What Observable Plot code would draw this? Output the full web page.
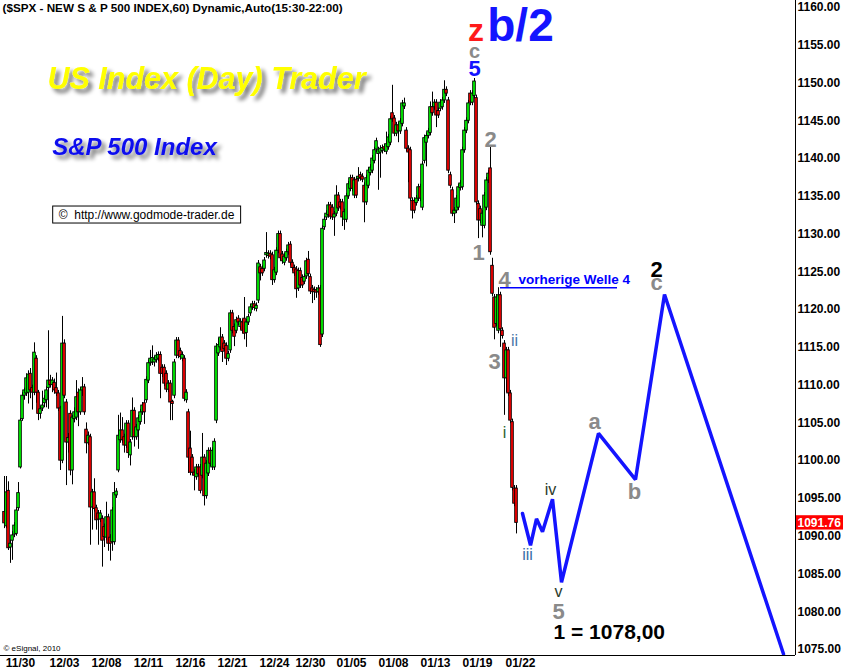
<!DOCTYPE html>
<html><head><meta charset="utf-8">
<script src="https://cdn.jsdelivr.net/npm/d3@7"></script>
<script src="https://cdn.jsdelivr.net/npm/@observablehq/plot@0.6"></script>
<style>html,body{margin:0;padding:0;background:#fff;overflow:hidden}</style>
</head><body><div id="chart"></div>
<script>
// hourly candles [open, high, low, close], 11/30 .. 01/22
const bars = [
[1093.2,1097.9,1091.0,1091.7],[1091.3,1097.9,1091.0,1095.8],[1096.0,1097.2,1088.1,1088.4],[1088.5,1089.5,1086.4,1089.0],
[1089.4,1090.6,1086.8,1090.1],[1090.2,1091.8,1089.8,1091.4],[1090.3,1093.8,1090.0,1093.4],[1093.7,1097.1,1093.3,1095.7],
[1099.1,1105.6,1098.9,1105.3],[1105.5,1109.0,1105.2,1108.6],[1108.6,1109.6,1108.0,1109.3],[1108.9,1111.5,1108.5,1110.9],
[1109.0,1111.9,1107.5,1111.4],[1111.5,1112.2,1108.2,1109.3],[1109.6,1110.0,1106.7,1109.0],[1109.0,1115.6,1108.6,1114.3],
[1113.5,1113.9,1107.6,1109.0],[1109.0,1109.3,1105.3,1106.2],[1106.2,1107.2,1105.5,1106.8],[1106.9,1109.2,1106.5,1107.3],
[1107.6,1108.6,1107.0,1108.2],[1108.0,1109.8,1107.0,1109.3],[1109.6,1117.2,1106.8,1110.6],[1110.6,1111.3,1109.6,1110.0],
[1110.0,1111.0,1109.0,1110.6],[1110.3,1110.8,1108.8,1109.3],[1109.6,1111.6,1108.5,1108.9],[1108.9,1109.3,1106.5,1106.9],
[1106.9,1107.2,1098.7,1100.0],[1100.0,1119.1,1099.6,1115.5],[1115.5,1116.0,1108.2,1108.6],[1107.7,1108.1,1096.7,1102.4],
[1102.4,1103.6,1101.0,1103.0],[1106.2,1106.6,1098.0,1098.7],[1098.7,1106.0,1096.8,1105.7],[1105.5,1107.0,1105.0,1106.4],
[1105.7,1110.6,1105.3,1108.4],[1109.0,1109.5,1104.5,1106.4],[1106.4,1109.7,1106.0,1109.3],[1109.3,1111.0,1108.5,1109.7],
[1109.7,1110.1,1106.0,1106.4],[1104.1,1105.0,1100.9,1102.3],[1102.3,1103.8,1102.0,1103.3],[1103.1,1103.5,1088.8,1093.8],
[1093.8,1096.2,1090.8,1095.8],[1095.8,1097.6,1093.2,1093.6],[1093.7,1094.1,1090.8,1092.1],[1093.0,1093.4,1088.8,1092.2],
[1092.2,1093.4,1091.8,1093.0],[1092.3,1092.7,1085.9,1089.4],[1091.2,1091.6,1088.5,1089.9],[1089.8,1094.5,1089.4,1092.5],
[1092.5,1092.9,1088.0,1089.0],[1089.8,1090.2,1086.7,1089.0],[1089.2,1093.8,1088.0,1093.4],[1089.2,1097.1,1088.8,1095.7],
[1095.4,1096.3,1095.0,1095.9],[1098.7,1106.0,1098.4,1103.3],[1102.7,1106.3,1102.3,1104.0],[1104.0,1105.7,1102.3,1102.7],
[1103.1,1103.5,1101.0,1102.0],[1102.0,1105.3,1101.6,1104.9],[1104.9,1105.3,1100.3,1101.0],[1100.7,1102.8,1099.3,1102.4],
[1103.1,1108.3,1102.7,1106.6],[1106.6,1107.0,1101.8,1103.1],[1103.1,1104.8,1102.7,1104.4],[1104.0,1106.0,1101.5,1105.6],
[1105.1,1106.8,1104.7,1106.4],[1106.4,1107.7,1106.0,1107.3],[1107.6,1108.0,1104.8,1106.4],[1108.0,1111.1,1107.6,1110.7],
[1110.6,1113.3,1110.2,1112.9],[1112.9,1114.6,1112.5,1113.5],[1113.0,1115.2,1112.6,1113.6],[1113.0,1113.8,1112.4,1113.4],
[1113.3,1114.3,1112.9,1113.9],[1113.5,1114.4,1113.1,1114.0],[1114.0,1114.4,1108.2,1111.5],[1112.3,1112.7,1111.0,1111.5],
[1112.3,1112.7,1109.8,1110.2],[1111.5,1111.9,1109.0,1109.4],[1109.4,1110.6,1109.0,1110.2],[1110.2,1110.6,1105.3,1107.7],
[1107.8,1108.0,1105.3,1107.5],[1108.6,1113.4,1108.2,1113.0],[1113.9,1116.3,1113.5,1115.9],[1115.9,1116.3,1113.5,1113.9],
[1114.5,1114.9,1113.3,1113.7],[1113.5,1114.4,1113.1,1114.0],[1113.5,1113.9,1107.8,1108.2],[1108.0,1109.4,1107.6,1109.0],
[1106.4,1106.8,1098.3,1100.4],[1101.6,1103.9,1098.0,1098.4],[1100.4,1100.8,1098.0,1098.4],[1098.4,1098.8,1096.0,1098.0],
[1097.8,1099.5,1097.4,1099.1],[1099.1,1099.5,1097.8,1098.2],[1099.1,1099.5,1095.6,1096.0],[1098.0,1103.6,1097.6,1100.4],
[1100.4,1100.8,1094.0,1095.3],[1095.3,1100.0,1094.9,1099.6],[1098.3,1101.7,1097.9,1101.3],[1101.3,1101.7,1099.2,1099.6],
[1099.1,1101.7,1098.7,1101.3],[1099.1,1102.9,1098.7,1102.5],[1105.3,1115.5,1104.9,1115.1],[1114.2,1116.2,1113.8,1115.3],
[1115.0,1117.6,1114.6,1116.3],[1116.3,1116.7,1113.0,1114.4],[1115.5,1115.9,1114.4,1114.8],[1115.2,1115.6,1112.6,1113.5],
[1113.5,1114.5,1113.1,1114.1],[1114.6,1119.9,1114.2,1119.5],[1119.5,1119.9,1116.8,1117.2],[1117.7,1118.1,1115.1,1116.4],
[1117.2,1119.0,1116.8,1118.6],[1118.8,1119.2,1117.9,1118.3],[1117.7,1118.8,1117.3,1118.4],[1118.3,1118.7,1116.8,1117.2],
[1118.8,1121.6,1116.0,1116.8],[1116.9,1118.7,1115.0,1118.3],[1118.3,1119.4,1117.9,1119.0],[1119.5,1120.7,1119.1,1120.3],
[1120.3,1121.1,1119.9,1120.7],[1120.7,1121.1,1119.8,1120.2],[1120.1,1120.9,1119.7,1120.5],[1121.2,1126.5,1120.8,1126.1],
[1125.6,1126.0,1123.8,1124.8],[1125.4,1125.8,1124.4,1124.8],[1125.4,1126.9,1125.0,1126.5],[1127.2,1130.2,1126.8,1127.5],
[1127.1,1127.8,1126.7,1127.4],[1127.4,1127.8,1126.6,1127.0],[1127.2,1127.6,1123.2,1123.9],[1123.9,1125.6,1123.5,1125.2],
[1124.9,1128.2,1124.5,1127.8],[1127.8,1130.4,1127.4,1130.0],[1130.0,1130.4,1126.4,1126.8],[1127.3,1127.7,1126.0,1126.4],
[1126.2,1127.4,1125.8,1127.0],[1126.8,1128.0,1126.4,1127.6],[1127.6,1128.9,1127.2,1128.5],[1128.6,1129.0,1125.8,1126.2],
[1126.2,1126.6,1125.1,1125.5],[1125.5,1125.9,1124.4,1124.8],[1125.3,1125.7,1121.5,1122.7],[1122.8,1125.5,1122.4,1125.1],
[1125.1,1125.5,1122.8,1123.2],[1124.2,1124.6,1122.8,1123.2],[1123.7,1124.7,1123.3,1124.3],[1124.4,1126.8,1124.0,1126.4],
[1126.6,1127.7,1124.3,1124.7],[1124.3,1124.7,1122.0,1122.4],[1122.8,1123.2,1120.8,1122.3],[1122.6,1123.0,1121.2,1122.3],
[1122.5,1122.9,1121.5,1122.3],[1122.3,1123.2,1121.9,1122.8],[1122.8,1123.2,1115.0,1115.3],[1116.7,1131.1,1116.3,1130.7],
[1130.9,1132.3,1130.5,1131.9],[1132.2,1133.1,1131.8,1132.7],[1132.5,1134.2,1132.1,1133.8],[1133.8,1134.2,1131.9,1132.3],
[1133.5,1133.9,1131.8,1132.2],[1132.2,1133.0,1129.7,1132.6],[1132.7,1136.4,1132.3,1135.1],[1135.1,1135.5,1133.0,1133.4],
[1134.2,1134.6,1133.2,1133.6],[1134.2,1134.6,1131.0,1132.2],[1131.9,1133.3,1130.5,1132.9],[1131.9,1135.4,1131.5,1135.0],
[1135.0,1137.0,1134.6,1136.6],[1136.0,1137.8,1135.6,1137.4],[1137.4,1137.8,1135.6,1136.0],[1135.1,1137.5,1134.7,1137.1],
[1137.2,1137.6,1134.7,1135.1],[1137.3,1138.8,1136.9,1137.6],[1137.8,1138.2,1137.0,1137.4],[1137.6,1138.0,1136.8,1137.2],
[1136.4,1136.8,1131.5,1134.2],[1134.2,1137.8,1133.8,1137.4],[1136.4,1138.8,1136.0,1138.4],[1138.1,1139.2,1137.7,1138.8],
[1138.4,1140.4,1138.0,1140.0],[1139.7,1141.5,1139.3,1141.1],[1141.2,1142.7,1140.8,1142.3],[1140.6,1141.5,1135.8,1141.1],
[1140.8,1141.7,1137.4,1141.3],[1141.0,1141.8,1140.6,1141.4],[1141.5,1141.9,1140.8,1141.2],[1140.9,1143.5,1140.5,1141.9],
[1141.5,1143.2,1141.1,1142.8],[1142.1,1145.6,1141.7,1145.2],[1146.0,1149.7,1144.8,1145.2],[1145.3,1145.7,1142.9,1143.3],
[1143.3,1144.8,1142.9,1144.4],[1144.4,1144.8,1142.1,1143.6],[1143.6,1145.3,1143.2,1144.9],[1144.6,1147.7,1144.2,1147.3],
[1146.9,1148.0,1146.5,1147.3],[1143.7,1144.1,1140.9,1141.3],[1141.3,1141.7,1136.8,1140.8],[1141.1,1141.5,1134.3,1134.7],
[1134.4,1134.8,1132.0,1133.1],[1134.4,1134.8,1132.7,1133.1],[1134.1,1135.1,1133.7,1134.7],[1134.7,1136.6,1134.3,1136.2],
[1136.2,1136.6,1134.3,1134.7],[1133.5,1139.6,1133.1,1139.2],[1139.7,1143.1,1139.3,1142.7],[1142.1,1143.4,1138.9,1143.0],
[1143.0,1144.0,1142.6,1143.6],[1143.4,1147.5,1143.0,1146.8],[1146.8,1148.8,1145.6,1146.0],[1146.8,1147.8,1146.4,1147.4],
[1147.4,1147.8,1144.1,1145.7],[1146.3,1146.7,1145.3,1145.7],[1146.6,1147.8,1146.2,1147.4],[1146.8,1148.1,1146.4,1147.7],
[1147.7,1150.3,1147.3,1149.1],[1149.1,1149.5,1148.2,1148.6],[1147.7,1148.1,1138.0,1138.4],[1137.8,1138.2,1136.0,1136.4],
[1135.8,1136.2,1132.3,1132.7],[1132.7,1133.5,1131.4,1133.1],[1133.1,1135.1,1132.7,1134.7],[1133.5,1136.6,1133.1,1136.2],
[1136.1,1137.1,1135.7,1136.7],[1136.2,1141.5,1135.8,1141.1],[1141.1,1144.1,1140.7,1143.7],[1143.7,1145.4,1143.3,1145.0],
[1145.0,1147.7,1144.6,1147.3],[1148.6,1149.0,1147.0,1147.4],[1147.4,1149.0,1147.0,1148.6],[1148.3,1150.6,1147.9,1150.2],
[1148.0,1148.4,1133.8,1134.2],[1134.0,1134.4,1129.4,1131.8],[1133.3,1133.7,1131.4,1131.8],[1131.1,1133.1,1129.5,1132.7],
[1131.1,1135.5,1130.7,1135.1],[1133.5,1137.5,1133.1,1137.1],[1137.1,1138.4,1136.7,1138.0],[1138.7,1141.5,1127.2,1127.6],
[1125.8,1126.8,1121.7,1122.1],[1121.6,1122.0,1116.0,1117.6],[1118.1,1122.0,1117.7,1121.6],[1117.2,1122.9,1116.8,1121.9],
[1121.9,1122.3,1115.0,1117.4],[1117.2,1117.6,1116.1,1116.5],[1115.5,1115.9,1106.0,1110.9],[1110.9,1115.0,1109.0,1114.6],
[1114.6,1115.0,1108.5,1108.9],[1108.9,1109.3,1104.9,1105.3],[1105.1,1105.5,1096.0,1096.4],[1096.3,1096.7,1093.9,1094.3],
[1096.3,1096.7,1090.3,1091.76]
];
const tickPos = [8, 30, 51, 72, 93, 114, 135, 153, 173.5, 194.5, 215.5, 236.5, 258];
const tickLabels = ["11/30","12/03","12/08","12/11","12/16","12/21","12/24","12/30","01/05","01/08","01/13","01/19","01/22"];
const priceTicks = [1075,1080,1085,1090,1095,1100,1105,1110,1115,1120,1125,1130,1135,1140,1145,1150,1155,1160];
// projected wave path (bar index, price)
const projX = [259, 263, 266, 269, 274, 278.5, 297, 315.5, 330, 389.5];
const projY = [1093.0, 1088.8, 1092.3, 1090.6, 1094.9, 1083.9, 1103.6, 1097.5, 1122.0, 1074.4];
const lastPrice = 1091.76;
const welleX = [248, 306.5];
const welleY = 1122.9;
const GRAY = "#8a8a8a", BLUE = "#1414ff";
const bigLabels = [
  {t:"z", x:235.75, y:1156.98, c:"#ff1a1a", s:32},
  {t:"b/2", x:258, y:1157.58, c:BLUE, s:46},
  {t:"c", x:235, y:1154.2, c:GRAY, s:20},
  {t:"5", x:235, y:1151.85, c:BLUE, s:22},
  {t:"2", x:243, y:1142.52, c:GRAY, s:22},
  {t:"1", x:237, y:1127.56, c:GRAY, s:22},
  {t:"4", x:250, y:1123.99, c:GRAY, s:22},
  {t:"3", x:245, y:1113.13, c:GRAY, s:22},
  {t:"5", x:277, y:1079.90, c:GRAY, s:22},
  {t:"a", x:295, y:1105.19, c:GRAY, s:22},
  {t:"b", x:315, y:1095.79, c:GRAY, s:22},
  {t:"2", x:326, y:1125.25, c:"#000000", s:22},
  {t:"c", x:326, y:1123.5, c:GRAY, s:22}
];
const smallLabels = [
  {t:"ii", x:255, y:1115.92, c:"#4a78a8"},
  {t:"i", x:250, y:1103.74, c:"#2f5f2f"},
  {t:"iii", x:261.5, y:1087.46, c:"#3a6ea5"},
  {t:"iv", x:273, y:1096.07, c:"#2b3a2b"},
  {t:"v", x:277, y:1082.56, c:"#2b3a2b"}
];
const targetText = {t:"1 = 1078,00", x:274.5, y:1077.34};
const welleText = {t:"vorherige Welle 4", x:257, y:1124.03};
const titleText = "($SPX - NEW S & P 500 INDEX,60) Dynamic,Auto(15:30-22:00)";
const headline = "US Index (Day) Trader";
const subline = "S&P 500 Index";
const copyright = "\u00a9  http://www.godmode-trader.de";

const candles = bars.map(([o,h,l,c], i) => {
  let top = Math.max(o,c), bot = Math.min(o,c);
  if (top - bot < 0.3) { const m = (top+bot)/2; top = m + 0.15; bot = m - 0.15; }
  return {i, o, h, l, c, top, bot};
});
const proj = projX.map((x, k) => ({x, y: projY[k]}));
const FONT = "'Liberation Sans', Arial, Helvetica, sans-serif";

const chart = Plot.plot({
  width: 843, height: 672,
  marginTop: 0, marginLeft: 0, marginRight: 48, marginBottom: 17,
  style: {fontFamily: FONT, fontSize: "12px", fontWeight: "bold", background: "white", color: "black", overflow: "visible"},
  x: {domain: [-2, 395.5], axis: "bottom", ticks: tickPos, tickFormat: d => tickLabels[tickPos.indexOf(d)], tickSize: 0, tickPadding: 3, label: null},
  y: {domain: [1074.2, 1160.93], axis: "right", ticks: priceTicks, tickFormat: d => d.toFixed(2), tickSize: 0, tickPadding: 2, label: null},
  marks: [
    Plot.text([titleText], {frameAnchor: "top-left", dx: 2, dy: 3.5, lineAnchor: "top", text: d => d, fontSize: 11.7, fontWeight: "bold", fill: "black"}),
    Plot.text([headline], {frameAnchor: "top-left", dx: 206, dy: 66.5, lineAnchor: "top", textAnchor: "middle", text: d => d, fontSize: 30.5, fontWeight: "bold", fontStyle: "italic", fill: "#ffff00"}),
    Plot.text([subline], {frameAnchor: "top-left", dx: 134, dy: 137.5, lineAnchor: "top", textAnchor: "middle", text: d => d, fontSize: 24, fontWeight: "bold", fontStyle: "italic", fill: "#1010ee"}),
    Plot.text([copyright], {frameAnchor: "top-left", dx: 146, dy: 210, lineAnchor: "top", textAnchor: "middle", text: d => d, fontSize: 12, fontWeight: "normal", fill: "black"}),
    Plot.text(["\u00a9 eSignal, 2010"], {frameAnchor: "top-left", dx: 3, dy: 645, lineAnchor: "top", text: d => d, fontSize: 8, fontWeight: "normal", fill: "black"}),
    Plot.ruleX(candles, {x: "i", y1: "l", y2: "h", stroke: "black", strokeWidth: 1}),
    Plot.rect(candles, {x1: d => d.i - 0.65, x2: d => d.i + 0.65, y1: "bot", y2: "top", fill: d => d.c >= d.o ? "#00ff00" : "#ff0000", stroke: "black", strokeWidth: 0.9}),
    Plot.ruleY([welleY], {x1: welleX[0], x2: welleX[1], stroke: "#0000ff", strokeWidth: 1.5}),
    Plot.line(proj, {x: "x", y: "y", stroke: BLUE, strokeWidth: 3.5, strokeLinejoin: "miter"}),
    Plot.text(bigLabels, {x: "x", y: "y", text: "t", fill: "c", fontSize: "s", fontWeight: "bold"}),
    Plot.text(smallLabels, {x: "x", y: "y", text: "t", fill: "c", fontSize: 16, fontWeight: "normal"}),
    Plot.text([targetText], {x: "x", y: "y", text: "t", fill: "black", fontSize: 21, fontWeight: "bold", textAnchor: "start"}),
    Plot.text([welleText], {x: "x", y: "y", text: "t", fill: "#0000ff", fontSize: 13.5, fontWeight: "bold", textAnchor: "start"}),
    Plot.ruleX([395.5], {stroke: "black", strokeWidth: 1}),
    Plot.ruleY([1074.2], {stroke: "black", strokeWidth: 1}),
    Plot.rect([lastPrice], {x1: 396, x2: 420, y1: d => d - 0.95, y2: d => d + 0.95, fill: "#ff0000"}),
    Plot.text([lastPrice], {x: 396.5, y: d => d, text: d => d.toFixed(2), textAnchor: "start", fill: "white", fontSize: 12, fontWeight: "bold"})
  ]
});
document.getElementById("chart").appendChild(chart);

// soft grey drop shadow for the two headline texts
const svg = d3.select(chart);
const defs = svg.insert("defs", ":first-child");
const f = defs.append("filter").attr("id", "softshadow").attr("x", "-10%").attr("y", "-30%").attr("width", "130%").attr("height", "180%");
f.append("feGaussianBlur").attr("in", "SourceAlpha").attr("stdDeviation", 2).attr("result", "blur");
f.append("feOffset").attr("in", "blur").attr("dx", 4).attr("dy", 4).attr("result", "off");
const ct = f.append("feComponentTransfer").attr("in", "off").attr("result", "shadow");
ct.append("feFuncA").attr("type", "linear").attr("slope", 0.55);
const fm = f.append("feMerge");
fm.append("feMergeNode").attr("in", "shadow");
fm.append("feMergeNode").attr("in", "SourceGraphic");

svg.selectAll("text").each(function() {
  const txt = this.textContent;
  if (txt === headline || txt === subline) {
    this.setAttribute("filter", "url(#softshadow)");
  }
  if (txt === copyright) {
    const b = this.getBBox();
    d3.select(this.parentNode).insert("rect", () => this)
      .attr("x", b.x - 6).attr("y", b.y - 2).attr("width", b.width + 12).attr("height", b.height + 3)
      .attr("transform", this.getAttribute("transform"))
      .attr("fill", "white").attr("stroke", "black").attr("stroke-width", 1);
  }
});
</script></body></html>
